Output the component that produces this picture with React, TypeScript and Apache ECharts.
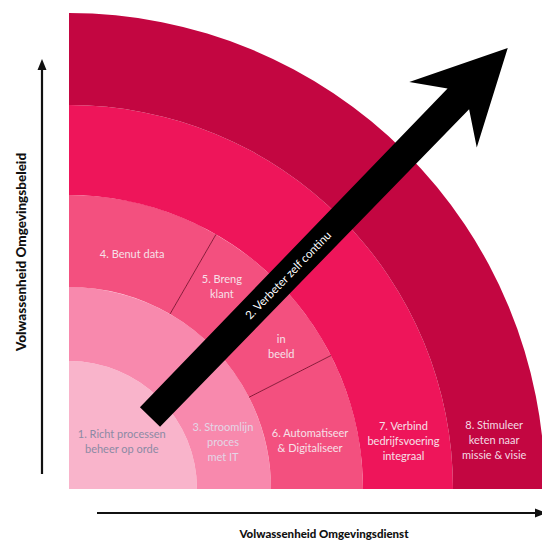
import React, { useEffect, useRef } from "react";
import * as echarts from "echarts";

// ---------- data ----------
const ring1Names = ["1. Richt processen\nbeheer op orde"];
const ring1Values = [90];
const ring2Names = ["3. Stroomlijn\nproces\nmet IT"];
const ring2Values = [90];
const ring3Names = ["4. Benut data", "5. Breng\nklant", "in\nbeeld", "6. Automatiseer\n& Digitaliseer"];
const ring3Values = [30, 16.5, 16.5, 27];
const ring4Names = ["7. Verbind\nbedrijfsvoering\nintegraal"];
const ring4Values = [90];
const ring5Names = ["8. Stimuleer\nketen naar\nmissie & visie"];
const ring5Values = [90];
const arrowLabel = "2. Verbeter zelf continu";
const xAxisTitle = "Volwassenheid Omgevingsdienst";
const yAxisTitle = "Volwassenheid Omgevingsbeleid";

// ---------- layout / style ----------
const CX = 69;
const CY = 489;
const RADII = [0, 128, 202, 294, 384, 476];
const RING_COLORS = ["#F9B4CB", "#F889AD", "#F3507F", "#EE155A", "#C30641"];
const TEXT_COLORS = ["#8c8aa4", "#e4d6e6", "#f6e0e8", "#f6e0e8", "#f3dbe4"];
const LABEL_ANGLES = [[42], [17], [75, 53, 34, 11.5], [8.3], [6.6]];
const LABEL_RADII = [[71], [161], [244, 254, 256, 246], [338], [428]];
const DIVIDER_ANGLES = [60, 27];

const rings = [
  { names: ring1Names, values: ring1Values },
  { names: ring2Names, values: ring2Values },
  { names: ring3Names, values: ring3Values },
  { names: ring4Names, values: ring4Values },
  { names: ring5Names, values: ring5Values },
];

const rad = (d: number) => (d * Math.PI) / 180;
const polar = (r: number, aDeg: number): [number, number] => [
  CX + r * Math.cos(rad(aDeg)),
  CY - r * Math.sin(rad(aDeg)),
];

export default function App() {
  const ref = useRef<HTMLDivElement>(null);
  useEffect(() => {
    if (!ref.current) return;
    const chart = echarts.init(ref.current, null, { renderer: "svg" });

    const series = rings.map((ring, ri) => {
      const data: any[] = ring.names.map((n, i) => ({
        name: n,
        value: ring.values[i],
        itemStyle: { color: RING_COLORS[ri] },
      }));
      const used = ring.values.reduce((a, b) => a + b, 0);
      data.push({
        name: "",
        value: 360 - used,
        itemStyle: { color: "rgba(0,0,0,0)" },
        label: { show: false },
      });
      return {
        type: "pie",
        silent: true,
        center: [CX, CY],
        radius: [RADII[ri], RADII[ri + 1]],
        startAngle: 90,
        clockwise: true,
        avoidLabelOverlap: false,
        z: 2 + ri,
        itemStyle: { borderWidth: 0 },
        emphasis: { disabled: true },
        label: {
          show: true,
          position: "inside",
          formatter: "{b}",
          color: TEXT_COLORS[ri],
          fontFamily: "Lato",
          fontSize: 11,
          lineHeight: 15,
          align: "center",
        },
        labelLine: { show: false },
        labelLayout: (p: any) => {
          const i = p.dataIndex;
          if (i >= ring.names.length) return {};
          const [x, y] = polar(LABEL_RADII[ri][i], LABEL_ANGLES[ri][i]);
          return { x, y, align: "center", verticalAlign: "middle" };
        },
        data,
      };
    });

    // divider lines in ring 3
    const dividers = DIVIDER_ANGLES.map((a) => {
      const [x1, y1] = polar(RADII[2], a);
      const [x2, y2] = polar(RADII[3], a);
      return {
        type: "line",
        z: 50,
        shape: { x1, y1, x2, y2 },
        style: { stroke: "#8a1838", lineWidth: 1 },
      };
    });

    // big arrow
    const T: [number, number] = [150, 417];
    const u: [number, number] = [0.696, -0.718];
    const n: [number, number] = [0.718, 0.696];
    const pt = (s: number, w: number): [number, number] => [
      T[0] + s * u[0] + w * n[0],
      T[1] + s * u[1] + w * n[1],
    ];
    const arrowPts = [
      pt(0, -14),
      pt(443, -15),
      pt(421, -47),
      pt(514, 0),
      pt(421, 47),
      pt(443, 15),
      pt(0, 14),
    ];
    const [lx, ly] = pt(198, 0);
    const ang = Math.atan2(-u[1], u[0]);

    chart.setOption({
      animation: false,
      series,
      graphic: [
        ...dividers,
        {
          type: "polygon",
          z: 100,
          shape: { points: arrowPts },
          style: { fill: "#000" },
        },
        {
          type: "text",
          z: 101,
          x: lx,
          y: ly,
          rotation: ang,
          style: {
            text: arrowLabel,
            fill: "#ffffff",
            fontFamily: "Lato",
            fontSize: 11.5,
            align: "center",
            verticalAlign: "middle",
          },
        },
        // y axis arrow
        {
          type: "line",
          z: 100,
          shape: { x1: 42, y1: 474, x2: 42, y2: 66 },
          style: { stroke: "#111", lineWidth: 2.2 },
        },
        {
          type: "polygon",
          z: 100,
          shape: { points: [[42, 59], [37.5, 70], [46.5, 70]] },
          style: { fill: "#111" },
        },
        {
          type: "text",
          z: 100,
          x: 21,
          y: 252,
          rotation: Math.PI / 2,
          style: {
            text: yAxisTitle,
            fill: "#111",
            fontFamily: "Lato",
            fontWeight: 900,
            fontSize: 13.5,
            align: "center",
            verticalAlign: "middle",
          },
        },
        // x axis arrow
        {
          type: "line",
          z: 100,
          shape: { x1: 97, y1: 513, x2: 538, y2: 513 },
          style: { stroke: "#111", lineWidth: 2.2 },
        },
        {
          type: "polygon",
          z: 100,
          shape: { points: [[546, 513], [535, 508.5], [535, 517.5]] },
          style: { fill: "#111" },
        },
        {
          type: "text",
          z: 100,
          x: 324,
          y: 533,
          style: {
            text: xAxisTitle,
            fill: "#111",
            fontFamily: "Lato",
            fontWeight: 900,
            fontSize: 11.5,
            align: "center",
            verticalAlign: "middle",
          },
        },
      ],
    });
    return () => chart.dispose();
  }, []);

  return (
    <div
      ref={ref}
      style={{ position: "absolute", left: 0, top: 0, width: 542, height: 540, background: "#fff" }}
    />
  );
}
